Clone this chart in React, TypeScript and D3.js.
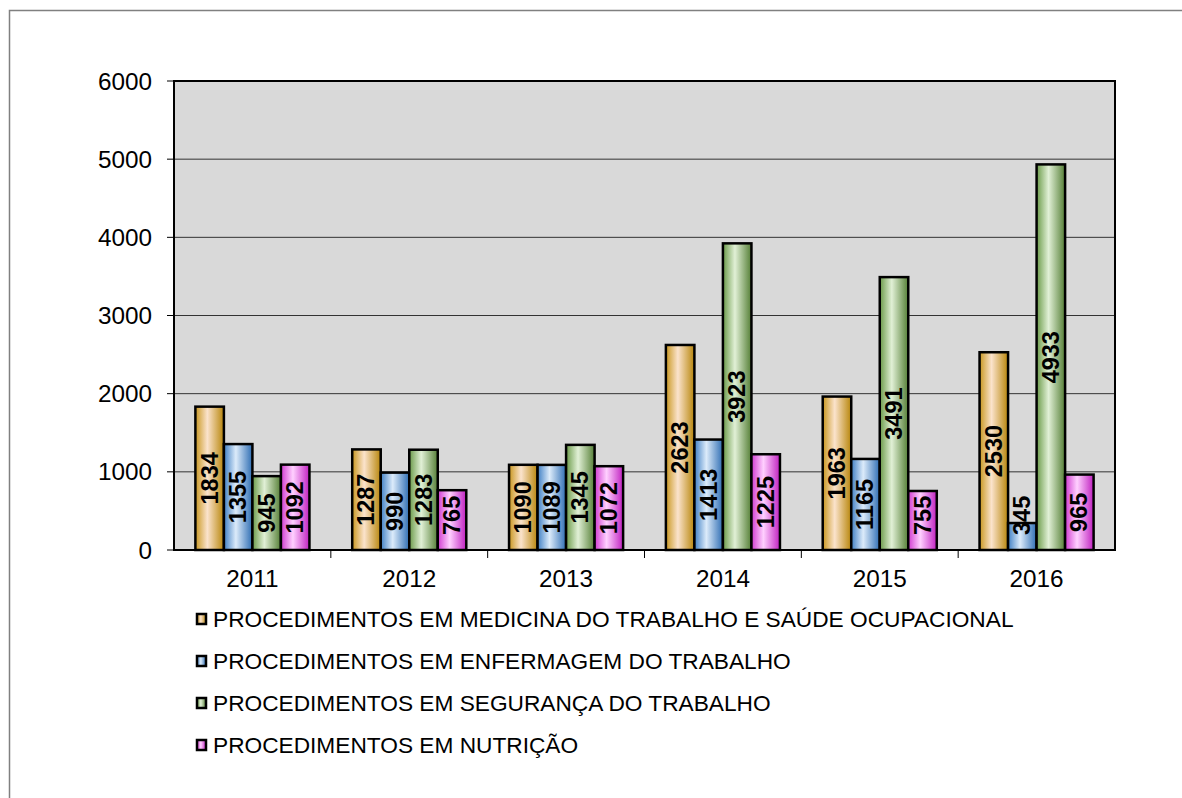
import * as d3 from 'd3'
import React from 'react'

const years = ['2011', '2012', '2013', '2014', '2015', '2016']
const seriesNames = [
  'PROCEDIMENTOS EM MEDICINA DO TRABALHO E SAÚDE OCUPACIONAL',
  'PROCEDIMENTOS EM ENFERMAGEM DO TRABALHO',
  'PROCEDIMENTOS EM SEGURANÇA DO TRABALHO',
  'PROCEDIMENTOS EM NUTRIÇÃO'
]
const medicina = [1834, 1287, 1090, 2623, 1963, 2530]
const enfermagem = [1355, 990, 1089, 1413, 1165, 345]
const seguranca = [945, 1283, 1345, 3923, 3491, 4933]
const nutricao = [1092, 765, 1072, 1225, 755, 965]
const yTicks = [0, 1000, 2000, 3000, 4000, 5000, 6000]

// edge / centre colours of each bar gradient
const palette = [
  { edge: '#c9971f', mid: '#fbe3cc', dark: '#b8860b' },
  { edge: '#3f7fc4', mid: '#dcebfa', dark: '#2e6db3' },
  { edge: '#6a9a48', mid: '#e1f0d6', dark: '#557f36' },
  { edge: '#d03ad0', mid: '#ffd0ff', dark: '#c020c0' }
]

const W = 1182
const H = 798
const plot = { left: 174, top: 81, right: 1115, bottom: 550 }
const labelSize = 23.5

export default function App() {
  const series = [medicina, enfermagem, seguranca, nutricao]

  const x = d3
    .scaleBand()
    .domain(years)
    .range([plot.left, plot.right])
    .paddingInner(0)
    .paddingOuter(0)
  const inner = d3
    .scaleBand()
    .domain(d3.range(4).map(String))
    .range([0, x.bandwidth()])
    .paddingOuter(0.75)
    .paddingInner(0)
  const y = d3.scaleLinear().domain([0, 6000]).range([plot.bottom, plot.top])

  const font = 'Arial, "Liberation Sans", sans-serif'

  return (
    <svg
      width={W}
      height={H}
      style={{ position: 'absolute', left: 0, top: 0, background: '#fff' }}
      fontFamily={font}
    >
      <defs>
        {palette.map((p, i) => (
          <linearGradient key={i} id={'g' + i} x1="0" x2="1" y1="0" y2="0">
            <stop offset="0" stopColor={p.edge} />
            <stop offset="0.42" stopColor={p.mid} />
            <stop offset="1" stopColor={p.dark} />
          </linearGradient>
        ))}
      </defs>

      {/* outer frame */}
      <rect x={9.5} y={10.5} width={W} height={H} fill="none" stroke="#808080" strokeWidth={1.5} />

      {/* plot area */}
      <rect
        x={plot.left}
        y={plot.top}
        width={plot.right - plot.left}
        height={plot.bottom - plot.top}
        fill="#d9d9d9"
      />
      {yTicks.slice(1, -1).map(t => (
        <line
          key={t}
          x1={plot.left}
          x2={plot.right}
          y1={y(t)}
          y2={y(t)}
          stroke="#333"
          strokeWidth={1}
        />
      ))}

      {/* y axis ticks and labels */}
      {yTicks.map(t => (
        <g key={t}>
          <line x1={plot.left - 7} x2={plot.left} y1={y(t)} y2={y(t)} stroke="#000" strokeWidth={1} />
          <text
            x={152}
            y={y(t)}
            textAnchor="end"
            dominantBaseline="central"
            fontSize={24.3}
          >
            {t}
          </text>
        </g>
      ))}

      {/* x axis ticks */}
      {years.slice(1).map(yr => (
        <line
          key={yr}
          x1={x(yr)!}
          x2={x(yr)!}
          y1={plot.bottom}
          y2={plot.bottom + 8}
          stroke="#000"
          strokeWidth={1}
        />
      ))}
      {years.map(yr => (
        <text
          key={yr}
          x={x(yr)! + x.bandwidth() / 2}
          y={578}
          textAnchor="middle"
          dominantBaseline="central"
          fontSize={24.3}
        >
          {yr}
        </text>
      ))}

      {/* bars */}
      {series.map((vals, si) =>
        vals.map((v, i) => {
          const bx = x(years[i])! + inner(String(si))!
          const bw = inner.bandwidth()
          return (
            <rect
              key={si + '-' + i}
              x={bx}
              y={y(v)}
              width={bw}
              height={y(0) - y(v)}
              fill={`url(#g${si})`}
              stroke="#000"
              strokeWidth={2.5}
            />
          )
        })
      )}

      {/* value labels, centred in the bar but kept clear of the axis */}
      {series.map((vals, si) =>
        vals.map((v, i) => {
          const cx = x(years[i])! + inner(String(si))! + inner.bandwidth() / 2
          const half = (String(v).length * 0.556 * labelSize) / 2
          const cy = Math.min((y(v) + y(0)) / 2, y(0) - 15 - half)
          return (
            <text
              key={'l' + si + '-' + i}
              transform={`translate(${cx},${cy}) rotate(-90)`}
              textAnchor="middle"
              dominantBaseline="central"
              fontSize={labelSize}
              fontWeight="bold"
            >
              {v}
            </text>
          )
        })
      )}

      {/* plot border */}
      <rect
        x={plot.left}
        y={plot.top}
        width={plot.right - plot.left}
        height={plot.bottom - plot.top}
        fill="none"
        stroke="#000"
        strokeWidth={2}
      />

      {/* legend */}
      {seriesNames.map((name, si) => {
        const ly = 619 + si * 42
        return (
          <g key={name}>
            <rect
              x={197}
              y={ly - 5}
              width={9}
              height={10}
              fill={`url(#g${si})`}
              stroke="#000"
              strokeWidth={2.5}
            />
            <text x={213} y={ly} dominantBaseline="central" fontSize={22.7}>
              {name}
            </text>
          </g>
        )
      })}
    </svg>
  )
}
